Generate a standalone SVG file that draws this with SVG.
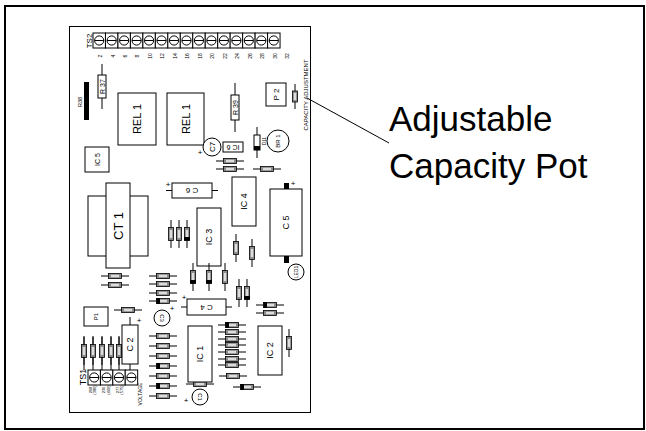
<svg xmlns="http://www.w3.org/2000/svg" xmlns:xlink="http://www.w3.org/1999/xlink" width="646" height="431" viewBox="0 0 646 431">
<style>
text{font-family:"Liberation Sans",Arial,sans-serif;fill:#000}
.c{text-anchor:middle;dominant-baseline:central}
.o{fill:#fff;stroke:#000;stroke-width:1}
.l{stroke:#000;stroke-width:1;fill:none}
.rb{fill:#8a8a8a;stroke:#000;stroke-width:0.8}
.k{fill:#000}
</style>
<defs>
<g id="rh"><line x1="-14" y1="0" x2="14" y2="0" class="l"/><rect x="-6.5" y="-2.5" width="13" height="5" class="rb"/><rect x="-4" y="-1.2" width="8" height="2.4" fill="#ddd"/></g>
<g id="rhb"><use xlink:href="#rh"/><rect x="-6.5" y="-3" width="3.5" height="6" class="k"/></g>
<g id="rv"><line x1="0" y1="-14" x2="0" y2="14" class="l"/><rect x="-2.5" y="-6.5" width="5" height="13" class="rb"/><rect x="-1.2" y="-4" width="2.4" height="8" fill="#ddd"/></g>
<g id="rvb"><use xlink:href="#rv"/><rect x="-3" y="3" width="6" height="3.5" class="k"/></g>
<g id="term"><rect x="0" y="0" width="12.47" height="15" class="o"/><circle cx="6.2" cy="7.5" r="4.6" class="o"/><line x1="1.6" y1="7.5" x2="10.8" y2="7.5" class="l"/></g>
</defs>

<rect id="frame" x="5" y="6" width="639" height="423" fill="#fff" stroke="#000" stroke-width="2"/>
<rect id="board" x="69.5" y="26.5" width="241" height="386" fill="#fff" stroke="#000" stroke-width="1"/>

<g id="TS2">
<use xlink:href="#term" x="93" y="33"/>
<use xlink:href="#term" x="105.47" y="33"/>
<use xlink:href="#term" x="117.94" y="33"/>
<use xlink:href="#term" x="130.41" y="33"/>
<use xlink:href="#term" x="142.88" y="33"/>
<use xlink:href="#term" x="155.35" y="33"/>
<use xlink:href="#term" x="167.82" y="33"/>
<use xlink:href="#term" x="180.29" y="33"/>
<use xlink:href="#term" x="192.76" y="33"/>
<use xlink:href="#term" x="205.23" y="33"/>
<use xlink:href="#term" x="217.7" y="33"/>
<use xlink:href="#term" x="230.17" y="33"/>
<use xlink:href="#term" x="242.64" y="33"/>
<use xlink:href="#term" x="255.11" y="33"/>
<use xlink:href="#term" x="267.58" y="33"/>
<text class="c" font-size="8" transform="translate(89,41) rotate(-90)">TS2</text>
<g font-size="5">
<text class="c" transform="translate(100,56) rotate(-90)">2</text>
<text class="c" transform="translate(112.5,56) rotate(-90)">4</text>
<text class="c" transform="translate(124.9,56) rotate(-90)">6</text>
<text class="c" transform="translate(137.4,56) rotate(-90)">8</text>
<text class="c" transform="translate(149.9,56) rotate(-90)">10</text>
<text class="c" transform="translate(162.4,56) rotate(-90)">12</text>
<text class="c" transform="translate(174.8,56) rotate(-90)">14</text>
<text class="c" transform="translate(187.3,56) rotate(-90)">16</text>
<text class="c" transform="translate(199.8,56) rotate(-90)">18</text>
<text class="c" transform="translate(212.2,56) rotate(-90)">20</text>
<text class="c" transform="translate(224.7,56) rotate(-90)">22</text>
<text class="c" transform="translate(237.2,56) rotate(-90)">24</text>
<text class="c" transform="translate(249.6,56) rotate(-90)">26</text>
<text class="c" transform="translate(262.1,56) rotate(-90)">28</text>
<text class="c" transform="translate(274.6,56) rotate(-90)">30</text>
<text class="c" transform="translate(287,56) rotate(-90)">32</text>
</g>
</g>

<g id="R37">
<line x1="102" y1="64" x2="102" y2="109" class="l"/>
<rect x="98" y="75" width="8" height="23" class="o"/>
<text class="c" font-size="7" transform="translate(102,86.5) rotate(-90)">R 37</text>
</g>
<g id="R38">
<rect x="84" y="82" width="5" height="38" class="k"/>
<text class="c" font-size="5.5" transform="translate(80,102) rotate(-90)">R38</text>
</g>
<g id="REL1a">
<rect x="118" y="93" width="38" height="52" class="o"/>
<text class="c" font-size="11" transform="translate(137,119) rotate(-90)">REL 1</text>
</g>
<g id="REL1b">
<rect x="167" y="93" width="37" height="52" class="o"/>
<text class="c" font-size="11" transform="translate(185.5,119) rotate(-90)">REL 1</text>
</g>
<g id="R39">
<line x1="235" y1="83" x2="235" y2="132" class="l"/>
<rect x="231" y="95" width="8" height="25" class="o"/>
<text class="c" font-size="7" transform="translate(235,107.5) rotate(-90)">R 39</text>
</g>
<g id="P2">
<rect x="266" y="83" width="20" height="23" class="o"/>
<text class="c" font-size="8" transform="translate(276,94.5) rotate(-90)">P 2</text>
</g>
<g id="R40">
<line x1="295" y1="84" x2="295" y2="109" class="l"/>
<rect x="292.5" y="91" width="5" height="11" class="rb"/>
<rect x="293.8" y="93" width="2.4" height="7" fill="#ddd"/>
</g>
<text id="capadj" class="c" font-size="6" transform="translate(305.5,95) rotate(-90)">CAPACITY ADJUSTMENT</text>

<g id="C7">
<circle cx="212" cy="147" r="9" class="o"/>
<text class="c" font-size="8" transform="translate(212,147) rotate(-90)">C7</text>
<text class="c" font-size="8" x="200" y="152">+</text>
</g>
<g id="IC6">
<rect x="223" y="142" width="20" height="10" class="o"/>
<text class="c" font-size="7" transform="translate(233,147) rotate(180)">IC 6</text>
</g>
<g id="D11">
<line x1="257" y1="127" x2="257" y2="158" class="l"/>
<rect x="254" y="135" width="6" height="15" class="o"/>
<rect x="254" y="146" width="6" height="4" class="k"/>
<text class="c" font-size="4.5" transform="translate(264,141) rotate(-90)">D11</text>
</g>
<g id="BR1">
<circle cx="278" cy="141" r="11" class="o"/>
<text class="c" font-size="6" transform="translate(278,141) rotate(-90)">BR 1</text>
</g>

<g id="IC5">
<rect x="85" y="147" width="24" height="25" class="o"/>
<text class="c" font-size="7" transform="translate(97,159.5) rotate(-90)">IC 5</text>
</g>
<g id="C6">
<line x1="166" y1="190.5" x2="218" y2="190.5" class="l"/>
<rect x="172" y="183" width="40" height="15" class="o"/>
<text class="c" font-size="8" transform="translate(192,190.5) rotate(180)">C 6</text>
<text class="c" font-size="8" x="168" y="184">+</text>
</g>
<g id="CT1">
<rect x="88" y="196" width="60" height="60" class="o"/>
<rect x="106" y="183" width="24" height="85" class="o"/>
<text class="c" font-size="13" transform="translate(118,226) rotate(-90)">CT 1</text>
</g>
<g id="IC3">
<rect x="197" y="208" width="24" height="58" class="o"/>
<text class="c" font-size="9" transform="translate(209,237) rotate(-90)">IC 3</text>
</g>
<g id="IC4">
<rect x="232" y="177" width="24" height="49" class="o"/>
<text class="c" font-size="9" transform="translate(244,201.5) rotate(-90)">IC 4</text>
</g>
<g id="C5">
<rect x="284" y="183" width="5" height="7" class="k"/>
<rect x="284" y="256" width="5" height="7" class="k"/>
<rect x="270" y="189" width="32" height="67" class="o"/>
<text class="c" font-size="9" transform="translate(286,222.5) rotate(-90)">C 5</text>
<text class="c" font-size="8" x="293" y="183">+</text>
</g>
<g id="LED1">
<circle cx="296" cy="272" r="8" class="o"/>
<text class="c" font-size="5" transform="translate(296,272) rotate(-90)">LED1</text>
</g>

<g id="resistors">
<use xlink:href="#rh" x="230" y="161"/>
<use xlink:href="#rh" x="230" y="169"/>
<use xlink:href="#rh" x="267" y="169"/>
<use xlink:href="#rv" x="171" y="234"/>
<use xlink:href="#rv" x="179" y="234"/>
<use xlink:href="#rvb" x="187" y="234"/>
<use xlink:href="#rv" x="236" y="248"/>
<use xlink:href="#rv" x="252" y="253"/>
<use xlink:href="#rvb" x="193" y="277"/>
<use xlink:href="#rvb" x="209" y="277"/>
<use xlink:href="#rv" x="225" y="277"/>
<use xlink:href="#rh" x="115" y="276"/>
<use xlink:href="#rh" x="115" y="285"/>
<use xlink:href="#rh" x="163" y="276"/>
<use xlink:href="#rh" x="163" y="284"/>
<use xlink:href="#rh" x="163" y="293"/>
<use xlink:href="#rhb" x="163" y="301"/>
<use xlink:href="#rh" x="128" y="310"/>
<use xlink:href="#rv" x="239" y="293"/>
<use xlink:href="#rvb" x="247" y="293"/>
<use xlink:href="#rhb" x="270" y="305"/>
<use xlink:href="#rh" x="270" y="313"/>
<use xlink:href="#rh" x="163" y="336"/>
<use xlink:href="#rh" x="163" y="346"/>
<use xlink:href="#rh" x="163" y="356"/>
<use xlink:href="#rhb" x="163" y="366"/>
<use xlink:href="#rh" x="163" y="376"/>
<use xlink:href="#rhb" x="163" y="386"/>
<use xlink:href="#rh" x="163" y="396"/>
<use xlink:href="#rh" x="200" y="384"/>
<use xlink:href="#rhb" x="232" y="325"/>
<use xlink:href="#rh" x="232" y="332"/>
<use xlink:href="#rh" x="232" y="339"/>
<use xlink:href="#rh" x="232" y="345"/>
<use xlink:href="#rh" x="232" y="352"/>
<use xlink:href="#rh" x="232" y="359"/>
<use xlink:href="#rh" x="232" y="365"/>
<use xlink:href="#rh" x="233" y="376"/>
<use xlink:href="#rhb" x="247" y="387"/>
<use xlink:href="#rv" x="289" y="343"/>
<g class="l"><line x1="84" y1="336" x2="84" y2="370"/><line x1="93" y1="336" x2="93" y2="370"/><line x1="102" y1="336" x2="102" y2="370"/><line x1="111" y1="336" x2="111" y2="370"/><line x1="119" y1="336" x2="119" y2="370"/></g>
<use xlink:href="#rv" x="84" y="351"/>
<use xlink:href="#rv" x="93" y="351"/>
<use xlink:href="#rv" x="102" y="351"/>
<use xlink:href="#rv" x="111" y="351"/>
<use xlink:href="#rv" x="119" y="351"/>
</g>

<g id="C4">
<line x1="181" y1="307" x2="232" y2="307" class="l"/>
<rect x="187" y="299" width="39" height="16" class="o"/>
<text class="c" font-size="8" transform="translate(206.5,307) rotate(180)">C 4</text>
<text class="c" font-size="8" x="184" y="297">+</text>
</g>
<g id="P1">
<rect x="84" y="307" width="24" height="19" class="o"/>
<text class="c" font-size="6" transform="translate(96,316.5) rotate(-90)">P1</text>
</g>
<g id="C3">
<circle cx="162" cy="318" r="8" class="o"/>
<text class="c" font-size="6" transform="translate(162,318) rotate(90)">C3</text>
<text class="c" font-size="8" x="172" y="308">+</text>
</g>
<g id="C2">
<line x1="130" y1="317" x2="130" y2="370" class="l"/>
<rect x="122" y="325" width="16" height="39" class="o"/>
<text class="c" font-size="9" transform="translate(130,344.5) rotate(-90)">C 2</text>
<text class="c" font-size="8" x="139" y="320">+</text>
</g>
<g id="TS1">
<use xlink:href="#term" x="88" y="370"/>
<use xlink:href="#term" x="100.4" y="370"/>
<use xlink:href="#term" x="112.8" y="370"/>
<use xlink:href="#term" x="125.2" y="370"/>
<text class="c" font-size="9" transform="translate(83,377) rotate(-90)">TS1</text>
<g font-size="4">
<text class="c" transform="translate(90,390) rotate(-90)">208</text>
<text class="c" transform="translate(94.5,390) rotate(-90)">(380)</text>
<text class="c" transform="translate(103.5,390) rotate(-90)">230</text>
<text class="c" transform="translate(108,390) rotate(-90)">(460)</text>
<text class="c" transform="translate(117,390) rotate(-90)">277</text>
<text class="c" transform="translate(121.5,390) rotate(-90)">(575)</text>
</g>
<text class="c" font-size="5" transform="translate(140,394) rotate(-90)">VOLTAGE</text>
</g>
<g id="IC1">
<rect x="188" y="326" width="24" height="56" class="o"/>
<text class="c" font-size="9" transform="translate(200,354) rotate(-90)">IC 1</text>
</g>
<g id="C1">
<circle cx="200" cy="397" r="8" class="o"/>
<text class="c" font-size="6" transform="translate(200,397) rotate(90)">C1</text>
<text class="c" font-size="8" x="186" y="400">+</text>
</g>
<g id="IC2">
<rect x="258" y="326" width="24" height="49" class="o"/>
<text class="c" font-size="9" transform="translate(270,350.5) rotate(-90)">IC 2</text>
</g>

<g id="callout">
<line x1="307" y1="98" x2="389" y2="143" class="l"/>
<text x="389" y="131" font-size="35">Adjustable</text>
<text x="389" y="178" font-size="35">Capacity Pot</text>
</g>
</svg>
